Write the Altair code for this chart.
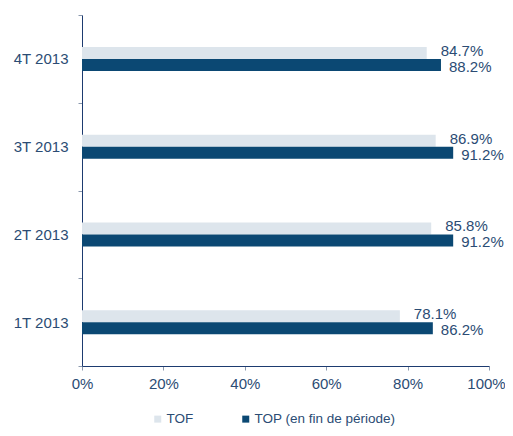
import altair as alt
import pandas as pd

quarters = ["4T 2013", "3T 2013", "2T 2013", "1T 2013"]
tof = [84.7, 86.9, 85.8, 78.1]
top = [88.2, 91.2, 91.2, 86.2]
series = ["TOF", "TOP (en fin de période)"]
x_ticks = [0, 20, 40, 60, 80, 100]

rows = []
for q, a, b in zip(quarters, tof, top):
    rows.append({"q": q, "s": series[0], "v": a, "lab": f"{a:.1f}%"})
    rows.append({"q": q, "s": series[1], "v": b, "lab": f"{b:.1f}%"})
df = pd.DataFrame(rows)

FONT = "Liberation Sans"
TXT = "#2b4c74"
LIGHT = "#dde5ec"
DARK = "#0b4873"

y_enc = alt.Y("q:N", sort=quarters, title=None,
              scale=alt.Scale(paddingInner=0, paddingOuter=0),
              axis=alt.Axis(tickBand="extent", tickSize=4, labelPadding=10,
                            domainColor="#1d3b70", tickColor="#8a98ad",
                            labelFont=FONT, labelFontSize=15, labelColor=TXT))
x_enc = alt.X("v:Q", title=None, scale=alt.Scale(domain=[0, 100]),
              axis=alt.Axis(values=x_ticks, grid=False, labelExpr="datum.value + '%'",
                            labelFlush=False, tickSize=4, labelPadding=6,
                            labelOffset=alt.condition("datum.value == 100",
                                                      alt.value(-3), alt.value(0)),
                            domainColor="#1d3b70", tickColor="#8a98ad",
                            labelFont=FONT, labelFontSize=15, labelColor=TXT))
color_enc = alt.Color("s:N", title=None,
                      scale=alt.Scale(domain=series, range=[LIGHT, DARK]),
                      legend=alt.Legend(orient="none", legendX=69, legendY=397,
                                        direction="horizontal", symbolType="square",
                                        symbolSize=49, symbolStrokeWidth=0,
                                        labelFont=FONT, labelFontSize=13.5,
                                        labelColor=TXT, columnPadding=45,
                                        labelOffset=2))

base = alt.Chart(df)

bar_tof = base.transform_filter(alt.datum.s == series[0]).mark_bar(
    height=12, yOffset=-6).encode(y=y_enc, x=x_enc, color=color_enc)
bar_top = base.transform_filter(alt.datum.s == series[1]).mark_bar(
    height=12, yOffset=6).encode(y=y_enc, x=x_enc, color=color_enc)

txt_tof = base.transform_filter(alt.datum.s == series[0]).mark_text(
    align="left", baseline="middle", dx=14, dy=-8, font=FONT, fontSize=15,
    color=TXT).encode(y=alt.Y("q:N", sort=quarters), x="v:Q", text="lab:N")
txt_top = base.transform_filter(alt.datum.s == series[1]).mark_text(
    align="left", baseline="middle", dx=8, dy=8, font=FONT, fontSize=15,
    color=TXT).encode(y=alt.Y("q:N", sort=quarters), x="v:Q", text="lab:N")

chart = alt.layer(bar_tof, bar_top, txt_tof, txt_top).properties(
    width=407, height=351,
    autosize=alt.AutoSizeParams(type="none"),
    padding={"left": 74, "top": 7, "right": 16, "bottom": 62},
).configure_view(stroke=None)

chart.save("out.html", embed_options={"renderer": "svg", "actions": False})
